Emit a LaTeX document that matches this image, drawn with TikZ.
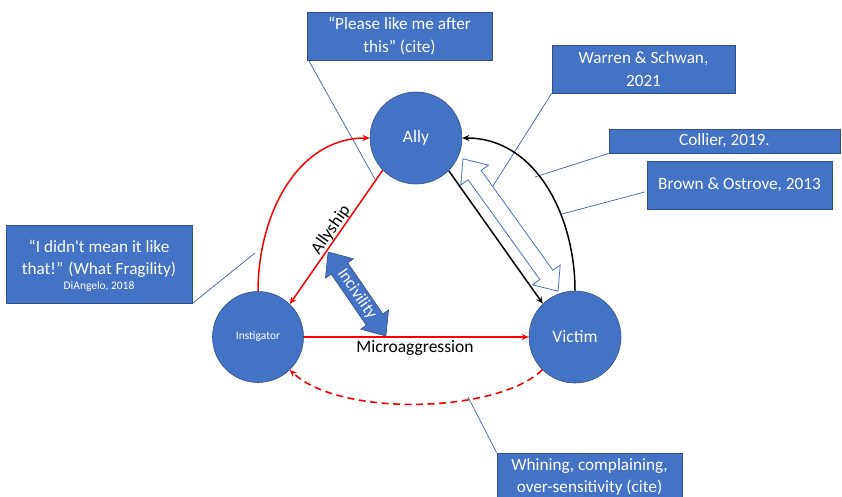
\documentclass[tikz,border=0pt]{standalone}
\usepackage{fontspec}
\setmainfont{Carlito}
\usetikzlibrary{arrows.meta,calc}
\definecolor{obl}{HTML}{4472C4}
\definecolor{obd}{HTML}{2F528F}
\begin{document}
\begin{tikzpicture}[x=1pt,y=-1pt,
  circ/.style={circle,fill=obl,draw=obd,line width=0.6pt,minimum size=92pt,inner sep=0pt,text=white},
  callout/.style={rectangle,fill=obl,draw=obd,line width=0.8pt,text=white,inner sep=0pt,align=center,font=\fontsize{17.2}{22.5}\selectfont},
  ptr/.style={draw=obl!85!black,line width=0.7pt},
  redarr/.style={draw=red,line width=1.5pt,-{Stealth[length=7pt,width=6pt]}},
  blkarr/.style={draw=black,line width=1.5pt,-{Stealth[length=7pt,width=6pt]}},
  lbl/.style={font=\fontsize{17.5}{20}\selectfont,inner sep=0pt}
]
\useasboundingbox (0,0) rectangle (842,497);

% callout boxes
\node[callout,minimum width=185pt,minimum height=48pt] (please) at (399.5,36) {“Please like me after\\this” (cite)};
\node[callout,minimum width=183pt,minimum height=48pt] (warren) at (643.5,69) {Warren \& Schwan,\\2021};
\node[callout,minimum width=231pt,minimum height=24pt] (collier) at (724.5,141) {Collier, 2019.};
\node[callout,minimum width=185pt,minimum height=48pt] (brown) at (739.5,185) {Brown \& Ostrove, 2013};
\node[callout,minimum width=186pt,minimum height=78pt,text depth=0pt] (diangelo) at (99,264) {};
\node[text=white,inner sep=0pt,align=center,font=\fontsize{17.2}{22.5}\selectfont] (diatext) at (99,259) {“I didn\textquotesingle t mean it like\\that!” (What Fragility)};
\node[text=white,inner sep=0pt,font=\fontsize{11.5}{14}\selectfont] (diacite) at (99,286.5) {DiAngelo, 2018};
\node[callout,minimum width=185pt,minimum height=48pt] (whining) at (589.5,477) {Whining, complaining,\\over-sensitivity (cite)};

% pointer ends
\coordinate (p1) at (376,181);
\coordinate (p2) at (493,186);
\coordinate (p3) at (535,177);
\coordinate (p4) at (562,214);
\coordinate (p5) at (255,253);
\coordinate (p6) at (468,397);

\draw[ptr] ($(please.south west)+(2,0)$) -- (p1);
\draw[ptr] (warren.south west) -- (p2);
\draw[ptr] (collier.south west) -- (p3);
\draw[ptr] ($(brown.west)+(-2,7)$) -- (p4);
\draw[ptr] (diangelo.south east) -- (p5);
\draw[ptr] (whining.north west) -- (p6);

% hollow double arrow
\begin{scope}[shift={(510.5,225)},rotate=-54.3]
\draw[draw=obl,line width=0.8pt,fill=white] (-81.5,0) -- (-61.5,17) -- (-61.5,8) -- (61.5,8) -- (61.5,17) -- (81.5,0) -- (61.5,-17) -- (61.5,-8) -- (-61.5,-8) -- (-61.5,-17) -- cycle;
\end{scope}

% circles
\node[circ,font=\fontsize{17.5}{20}\selectfont] (ally) at (416,138) {Ally};
\node[circ,minimum size=91pt,font=\fontsize{11.5}{14}\selectfont] (inst) at (258,337) {Instigator};
\node[circ,font=\fontsize{17.5}{20}\selectfont] (victim) at (575,337) {Victim};

% incivility arrow
\begin{scope}[shift={(357,294)},rotate=-55.5]
\draw[fill=obl,draw=obd,line width=0.6pt] (-51,0) -- (-31,17) -- (-31,10) -- (31,10) -- (31,17) -- (51,0) -- (31,-17) -- (31,-10) -- (-31,-10) -- (-31,-17) -- cycle;
\node[text=white,font=\fontsize{17}{20}\selectfont,inner sep=0pt,rotate=-55.5] (incivility) at (0,0) {Incivility};
\end{scope}

% connectors
\draw[redarr] (ally.224) -- (inst.46);
\draw[redarr] (inst.90) .. controls +(0,-74) and +(-74,0) .. (ally.180);
\draw[redarr] (inst.0) -- (victim.180);
\draw[redarr,dash pattern=on 7pt off 4.5pt,line width=1.6pt] (victim.225) .. controls +(-43,43) and +(51,48) .. (inst.314);
\draw[blkarr] (ally.-45) -- (victim.134);
\draw[blkarr] (victim.90) .. controls +(0,-74) and +(74,0) .. (ally.0);

% labels
\node[lbl,rotate=55] (allyship) at (331,230) {Allyship};
\node[lbl] (micro) at (415,347.5) {Microaggression};
\end{tikzpicture}
\end{document}
